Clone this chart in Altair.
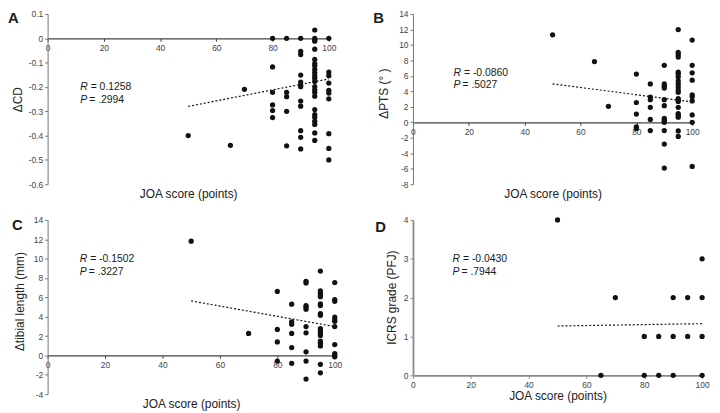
import altair as alt
import pandas as pd

FONT = "Liberation Sans"

# ---------------- data ----------------
JOA_TICKS = [0, 20, 40, 60, 80, 100]
X_TITLE = "JOA score (points)"

# Panel A: delta CD
A_COLS = {
    50: [-0.40],
    65: [-0.44],
    70: [-0.21],
    80: [0, -0.118, -0.222, -0.274, -0.297, -0.326],
    85: [0, -0.222, -0.24, -0.30, -0.442],
    90: [0, -0.054, -0.067, -0.151, -0.18, -0.193, -0.199, -0.258, -0.279, -0.38, -0.407, -0.455],
    95: [0.034, 0, -0.007, -0.012, -0.045, -0.087, -0.104, -0.113, -0.128, -0.141, -0.154, -0.164,
         -0.178, -0.199, -0.212, -0.222, -0.238, -0.293, -0.314, -0.325, -0.341, -0.354, -0.389, -0.42],
    100: [0, -0.139, -0.154, -0.184, -0.214, -0.225, -0.249, -0.392, -0.453, -0.50],
}
A_LINE_X = [50, 100]
A_LINE_Y = [-0.28, -0.167]
A_YTICKS = [0.1, 0, -0.1, -0.2, -0.3, -0.4, -0.5, -0.6]
A_R, A_P = "= 0.1258", "= .2994"

# Panel B: delta PTS
B_COLS = {
    50: [11.3],
    65: [7.85],
    70: [2.07],
    80: [6.24, 2.56, 1.07, -0.58, -0.79],
    85: [4.96, 3.26, 2.93, 1.94, 0.37, -1.07],
    90: [7.36, 4.96, 4.67, 4.42, 2.93, 2.15, 0.5, 0.25, 0, -1.07, -2.81, -5.91],
    95: [11.98, 9.05, 8.76, 8.43, 6.49, 6.28, 5.9, 5.37, 4.96, 4.55, 4.17, 3.88, 3.06, 2.85, 2.69,
         1.94, 1.12, 0.91, 0.66, -1.12, -1.82],
    100: [10.62, 7.36, 6.4, 5.45, 3.55, 3.3, 2.77, 0.95, 0, -5.7],
}
B_LINE_X = [50, 100]
B_LINE_Y = [4.96, 2.64]
B_YTICKS = [14, 12, 10, 8, 6, 4, 2, 0, -2, -4, -6, -8]
B_R, B_P = "= -0.0860", "= .5027"

# Panel C: delta tibial length
C_COLS = {
    50: [11.8],
    70: [2.27],
    80: [6.61, 2.68, 1.39, -0.58],
    85: [5.29, 3.46, 3.22, 2.27, 0.81, -0.81],
    90: [7.66, 7.49, 5.15, 4.98, 4.78, 2.98, 2.34, 0.37, -0.58, -2.44],
    95: [8.71, 6.68, 6.44, 6.24, 6.07, 5.32, 5.15, 4.31, 4.14, 2.78, 2.54, 2.27, 2.07, 1.49, 1.25,
         0.98, -0.92, -1.8],
    100: [7.53, 5.76, 5.59, 3.97, 3.69, 3.53, 2.98, 1.12, 0.2, 0.03, -0.14],
}
C_LINE_X = [50, 100]
C_LINE_Y = [5.63, 2.98]
C_YTICKS = [14, 12, 10, 8, 6, 4, 2, 0, -2, -4]
C_R, C_P = "= -0.1502", "= .3227"

# Panel D: ICRS grade
D_COLS = {
    50: [4],
    65: [0],
    70: [2],
    80: [1, 0],
    85: [1, 0],
    90: [2, 1, 0],
    95: [2, 1],
    100: [3, 2, 1, 0],
}
D_LINE_X = [50, 100]
D_LINE_Y = [1.27, 1.33]
D_YTICKS = [0, 1, 2, 3, 4]
D_R, D_P = "= -0.0430", "= .7944"

LBL_DEC = "abs(datum.value) < 1e-9 ? '0' : (datum.value < 0 ? '-' : '') + format(abs(datum.value), '.1f')"
LBL_INT = "(datum.value < 0 ? '-' : '') + format(abs(datum.value), 'd')"


def txt(s, x, y, size=10.5, style="normal", weight="normal", baseline="middle"):
    return alt.Chart(pd.DataFrame({"t": [s]})).mark_text(
        align="left", baseline=baseline, fontSize=size, fontStyle=style,
        fontWeight=weight, color="#1a1a1a", font=FONT,
    ).encode(x=alt.value(x), y=alt.value(y), text="t:N")


def panel(cols, lx, ly, ydom, yticks, lbl, ytitle, letter, r_txt, p_txt,
          w, h, zero_axis, ytx, yty, letter_xy, stats_xy, dom_color, dom_w, xdom_color, xdom_w):
    rows = [{"x": x, "y": y} for x, ys in cols.items() for y in ys]
    df = pd.DataFrame(rows)
    ldf = pd.DataFrame({"x": lx, "y": ly})
    y0 = h * (ydom[1] - 0) / (ydom[1] - ydom[0])
    if zero_axis:
        off = y0 - h
        ttl_y = h - y0 + 4
    else:
        off = 0
        ttl_y = 15
    xscale = alt.Scale(domain=[0, 100], nice=False, zero=False)
    yscale = alt.Scale(domain=ydom, nice=False, zero=False)
    xaxis = alt.Axis(values=JOA_TICKS, offset=off, labelFlush=False, labelOverlap=False,
                     labelBound=False, title=X_TITLE,
                     titleX=w / 2, titleY=ttl_y, titleBaseline="top", titleAlign="center",
                     titleFontSize=12, titleFontWeight="normal", titleColor="#222",
                     labelFontSize=8.5, labelColor="#444", labelPadding=2, tickSize=3,
                     domainColor=xdom_color, domainWidth=xdom_w, tickColor=xdom_color,
                     grid=False, titleFont=FONT, labelFont=FONT)
    yaxis = alt.Axis(values=yticks, labelExpr=lbl, labelOverlap=False, labelFlush=False,
                     labelBound=False, title=ytitle, titleX=ytx, titleY=yty,
                     titleAngle=-90, titleAlign="center", titleBaseline="alphabetic",
                     titleFontSize=12, titleFontWeight="normal", titleColor="#222",
                     labelFontSize=8.5, labelColor="#444", labelPadding=2, tickSize=3,
                     domainColor=dom_color, domainWidth=dom_w, tickColor=dom_color,
                     grid=False, titleFont=FONT, labelFont=FONT)
    pts = alt.Chart(df).mark_circle(size=28, color="#111", opacity=1).encode(
        x=alt.X("x:Q", scale=xscale, axis=xaxis),
        y=alt.Y("y:Q", scale=yscale, axis=yaxis),
    )
    line = alt.Chart(ldf).mark_line(strokeDash=[2, 2], strokeWidth=1.2, color="#111").encode(
        x=alt.X("x:Q", scale=xscale, axis=xaxis), y=alt.Y("y:Q", scale=yscale, axis=yaxis)
    )
    sx, sry, spy = stats_xy
    layers = [
        pts, line,
        txt(letter, letter_xy[0], letter_xy[1], size=15, weight="bold", baseline="top"),
        txt("R", sx, sry, style="italic"),
        txt(r_txt, sx + 10.5, sry),
        txt("P", sx, spy, style="italic"),
        txt(p_txt, sx + 9, spy),
    ]
    return alt.layer(*layers).properties(width=w, height=h)


A = panel(A_COLS, A_LINE_X, A_LINE_Y, [-0.6, 0.1], A_YTICKS, LBL_DEC, "ΔCD", "A", A_R, A_P,
          284, 172, True, -26, 86, (-40, -3), (33, 74, 87), "#777", 1, "#444", 1.3)
B = panel(B_COLS, B_LINE_X, B_LINE_Y, [-8, 14], B_YTICKS, LBL_INT, "ΔPTS (° )", "B", B_R, B_P,
          282, 172, True, -26, 80, (-40, -3), (41, 60, 72), "#777", 1, "#444", 1.3)
C = panel(C_COLS, C_LINE_X, C_LINE_Y, [-4, 14], C_YTICKS, LBL_INT, "Δtibial length (mm)", "C", C_R, C_P,
          290, 176, True, -24, 82, (-36, -2), (32.5, 40, 53), "#777", 1, "#444", 1.3)
D = panel(D_COLS, D_LINE_X, D_LINE_Y, [0, 4], D_YTICKS, LBL_INT, "ICRS grade (PFJ)", "D", D_R, D_P,
          292, 157, False, -18, 78, (-38, 0), (40, 40, 53), "#888", 1.8, "#888", 1.8)

chart = alt.concat(A, B, C, D, columns=2, spacing={"row": 36, "column": 79}).properties(
    bounds="flush", padding={"left": 0, "top": 0, "right": 2, "bottom": 0}
).configure_view(stroke=None).configure_axis(labelOverlap=False)

chart.save("out.html", embed_options={"renderer": "svg", "actions": False})
